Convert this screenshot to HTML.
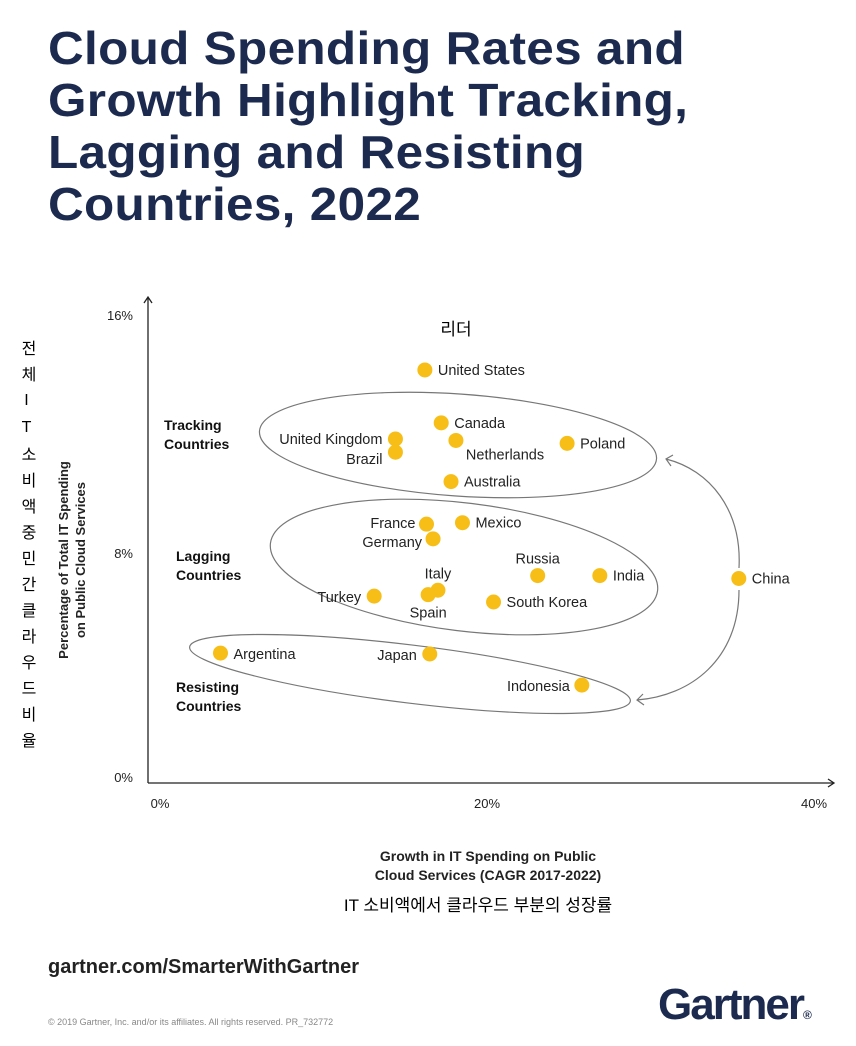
<!DOCTYPE html>
<html><head><meta charset="utf-8"><style>
body{margin:0;width:856px;height:1046px;background:#fff;overflow:hidden;font-family:"Liberation Sans","Noto Sans CJK KR",sans-serif;position:relative}
.title{position:absolute;left:48px;top:22px;font-size:46px;line-height:52px;font-weight:bold;color:#1b2a4e;letter-spacing:0.3px;transform:scaleX(1.075);transform-origin:0 0;white-space:nowrap}
.vk{position:absolute;left:16px;top:340px;writing-mode:vertical-rl;text-orientation:upright;font-size:16px;line-height:20px;letter-spacing:10px;color:#000}
svg{position:absolute;left:0;top:0}
.url{position:absolute;left:48px;top:956px;font-size:20px;font-weight:bold;color:#222}
.copy{position:absolute;left:48px;top:1017px;font-size:9px;color:#888}
.logo{position:absolute;left:658px;top:980px;font-size:44px;font-weight:bold;color:#1b2a4e;letter-spacing:-2px}
</style></head><body>
<div class="title">Cloud Spending Rates and<br>Growth Highlight Tracking,<br>Lagging and Resisting<br>Countries, 2022</div>
<div class="vk">전체IT소비액중민간클라우드비율</div>
<svg id="chart" width="856" height="1046"></svg>
<div class="url">gartner.com/SmarterWithGartner</div>
<div class="copy">© 2019 Gartner, Inc. and/or its affiliates. All rights reserved. PR_732772</div>
<div class="logo">Gartner<span style="font-size:12px">®</span></div>
<script>
const countries=["United States","Canada","United Kingdom","Brazil","Netherlands","Poland","Australia","France","Mexico","Germany","Russia","India","China","Italy","Spain","Turkey","South Korea","Argentina","Japan","Indonesia"];
const growth=[16.2,17.2,14.4,14.4,18.1,24.9,17.8,16.3,18.5,16.7,23.1,26.9,35.4,17.0,16.4,13.1,20.4,3.7,16.5,25.8];
const share=[14.3,12.5,11.95,11.5,11.9,11.8,10.5,9.05,9.1,8.55,7.3,7.3,7.2,6.8,6.65,6.6,6.4,4.66,4.63,3.57];
const labelPos=[["start",13,5],["start",13,5],["end",-13,5],["end",-13,12],["start",10,19],["start",13,5],["start",13,5],["end",-11,4],["start",13,5],["end",-11,8],["middle",0,-12],["start",13,5],["start",13,5],["middle",0,-12],["middle",0,23],["end",-13,6],["start",13,5],["start",13,6],["end",-13,6],["end",-12,6]];
const xTicks=[0,20,40];
const yTicks=[0,8,16];
const X=v=>160+v*16.35;
const Y=v=>790-v*29.375;
const NS="http://www.w3.org/2000/svg";
const svg=document.getElementById('chart');
function mk(t,a,txt){const e=document.createElementNS(NS,t);for(const k in a)e.setAttribute(k,a[k]);if(txt!=null)e.textContent=txt;svg.appendChild(e);return e;}
const F='"Liberation Sans","Noto Sans CJK KR",sans-serif';
let e;
e=mk('path',{d:'M148,783 H834 M828,779 L834,783 L828,787 M148,783 V297 M144,303 L148,297 L152,303',stroke:'#222','stroke-width':1.3,fill:'none'});


xTicks.forEach(t=>{e=mk('text',{x:X(t),y:808,'font-size':13,'text-anchor':'middle','font-family':F,fill:'#222'},t+'%');

});
yTicks.forEach(t=>{e=mk('text',{x:133,y:Y(t)+(t==0?-8:t==16?0:3),'font-size':13,'text-anchor':'end','font-family':F,fill:'#222'},t+'%');

});
e=mk('text',{x:0,y:0,transform:'translate(68,560) rotate(-90)','font-size':13,'font-weight':'bold','text-anchor':'middle','font-family':F,fill:'#222'},'Percentage of Total IT Spending');


e=mk('text',{x:0,y:0,transform:'translate(85,560) rotate(-90)','font-size':13,'font-weight':'bold','text-anchor':'middle','font-family':F,fill:'#222'},'on Public Cloud Services');


e=mk('text',{x:488,y:861,'font-size':14,'font-weight':'bold','text-anchor':'middle','font-family':F,fill:'#222'},'Growth in IT Spending on Public');


e=mk('text',{x:488,y:880,'font-size':14,'font-weight':'bold','text-anchor':'middle','font-family':F,fill:'#222'},'Cloud Services (CAGR 2017-2022)');


e=mk('text',{x:478,y:911,'font-size':17,'text-anchor':'middle','font-family':F,fill:'#000'},'IT 소비액에서 클라우드 부분의 성장률');


e=mk('text',{x:456,y:335,'font-size':17,'text-anchor':'middle','font-family':F,fill:'#000'},'리더');


e=mk('ellipse',{cx:458,cy:445,rx:199,ry:51,transform:'rotate(4 458 445)',fill:'none',stroke:'#777','stroke-width':1.2});


e=mk('ellipse',{cx:464,cy:567,rx:195,ry:64,transform:'rotate(7 464 567)',fill:'none',stroke:'#777','stroke-width':1.2});


e=mk('ellipse',{cx:410,cy:674,rx:222,ry:29,transform:'rotate(7 410 674)',fill:'none',stroke:'#777','stroke-width':1.2});


e=mk('path',{d:'M739,568 C742,510 710,470 666,459 M673,455 L666,459 L671,466 M739,590 C739,660 690,696 637,700 M643,694 L637,700 L644,705',fill:'none',stroke:'#777','stroke-width':1.2});


[["Tracking","Countries",164,430],["Lagging","Countries",176,561],["Resisting","Countries",176,692]].forEach(g=>{
e=mk('text',{x:g[2],y:g[3],'font-size':14,'font-weight':'bold','font-family':F,fill:'#111'},g[0]);


e=mk('text',{x:g[2],y:g[3]+19,'font-size':14,'font-weight':'bold','font-family':F,fill:'#111'},g[1]);

});
countries.forEach((c,i)=>{
const cx=X(growth[i]),cy=Y(share[i]);
e=mk('circle',{cx:cx,cy:cy,r:7.5,fill:'#f6be16'});


const p=labelPos[i];
e=mk('text',{x:cx+p[1],y:cy+p[2],'font-size':14.5,'text-anchor':p[0],'font-family':F,fill:'#222'},c);


});
</script>
</body></html>
